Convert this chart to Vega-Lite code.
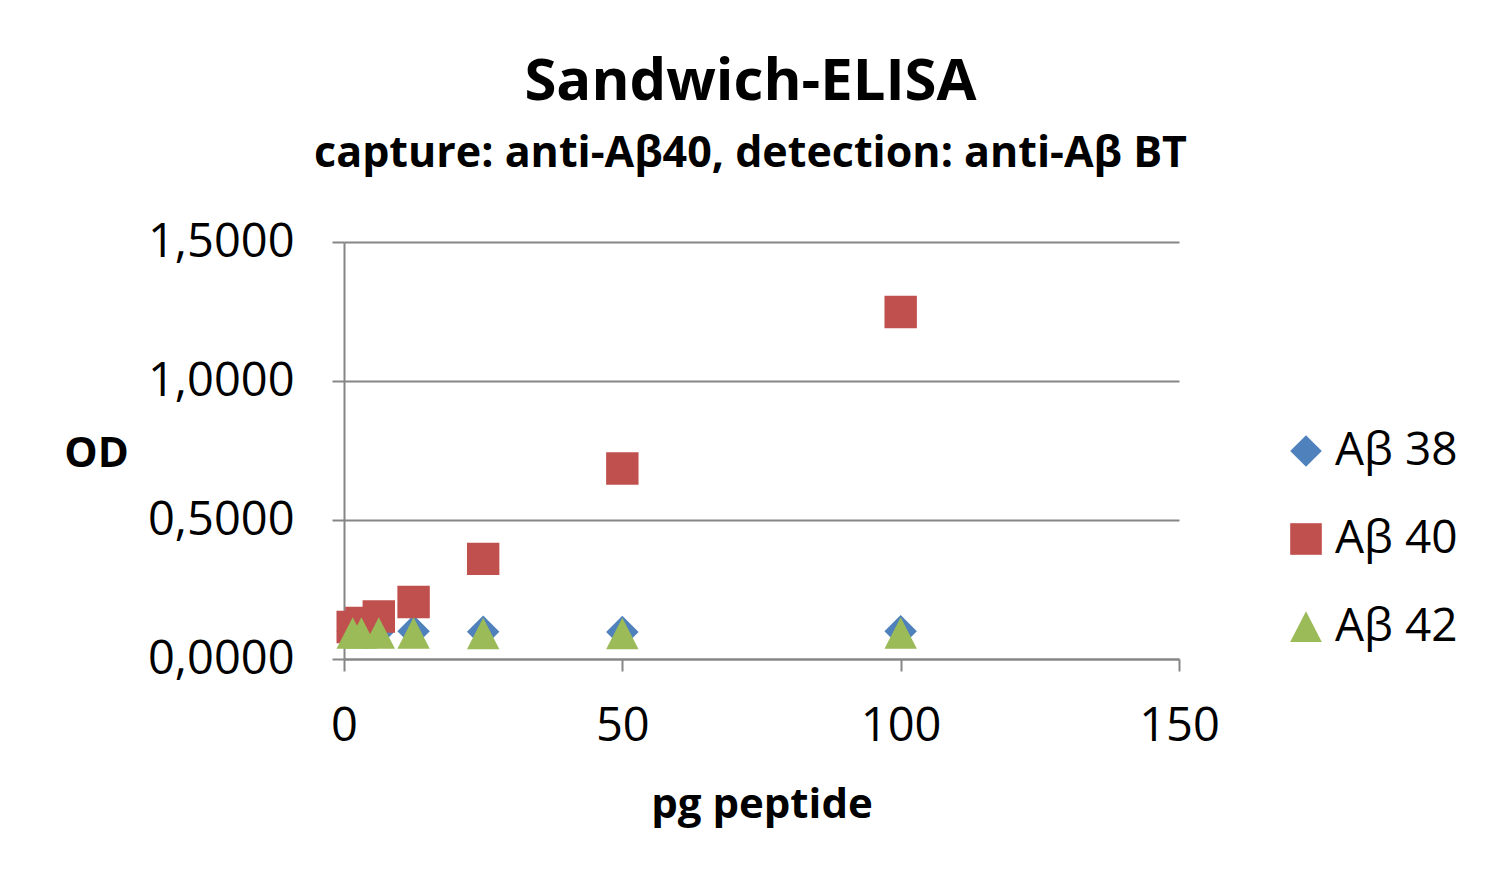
{
  "$schema": "https://vega.github.io/schema/vega-lite/v6.json",
  "width": 835,
  "height": 417,
  "autosize": "none",
  "padding": {"left": 344, "top": 242, "right": 321, "bottom": 231},
  "background": "white",
  "title": {
    "text": "Sandwich-ELISA",
    "subtitle": "capture: anti-Aβ40, detection: anti-Aβ BT",
    "font": "Open Sans",
    "fontSize": 58,
    "fontWeight": "bold",
    "color": "black",
    "subtitleFont": "Open Sans",
    "subtitleFontSize": 43,
    "subtitleFontWeight": "bold",
    "subtitleColor": "black",
    "subtitlePadding": 21,
    "anchor": "middle",
    "frame": "group",
    "dx": -11,
    "offset": 42
  },
  "data": {
    "values": [
      {"series": "Aβ 38", "pg": 1.5625, "od": 0.100},
      {"series": "Aβ 38", "pg": 3.125, "od": 0.100},
      {"series": "Aβ 38", "pg": 6.25, "od": 0.100},
      {"series": "Aβ 38", "pg": 12.5, "od": 0.100},
      {"series": "Aβ 38", "pg": 25, "od": 0.098},
      {"series": "Aβ 38", "pg": 50, "od": 0.097},
      {"series": "Aβ 38", "pg": 100, "od": 0.100},
      {"series": "Aβ 40", "pg": 1.5625, "od": 0.115},
      {"series": "Aβ 40", "pg": 3.125, "od": 0.130},
      {"series": "Aβ 40", "pg": 6.25, "od": 0.153},
      {"series": "Aβ 40", "pg": 12.5, "od": 0.205},
      {"series": "Aβ 40", "pg": 25, "od": 0.360},
      {"series": "Aβ 40", "pg": 50, "od": 0.685},
      {"series": "Aβ 40", "pg": 100, "od": 1.248},
      {"series": "Aβ 42", "pg": 1.5625, "od": 0.092},
      {"series": "Aβ 42", "pg": 3.125, "od": 0.092},
      {"series": "Aβ 42", "pg": 6.25, "od": 0.092},
      {"series": "Aβ 42", "pg": 12.5, "od": 0.092},
      {"series": "Aβ 42", "pg": 25, "od": 0.090},
      {"series": "Aβ 42", "pg": 50, "od": 0.090},
      {"series": "Aβ 42", "pg": 100, "od": 0.092}
    ]
  },
  "mark": {"type": "point", "filled": true, "opacity": 1, "size": 1050},
  "encoding": {
    "x": {
      "field": "pg",
      "type": "quantitative",
      "scale": {"domain": [0, 150], "nice": false, "zero": true},
      "axis": {
        "values": [0, 50, 100, 150],
        "grid": false,
        "title": "pg peptide",
        "titleFont": "Open Sans",
        "titleFontSize": 42,
        "titleFontWeight": "bold",
        "titleColor": "black",
        "titleY": 158,
        "titleBaseline": "alphabetic",
        "labelFont": "Open Sans",
        "labelFontSize": 47,
        "labelColor": "black",
        "labelPadding": 32,
        "labelFlush": false,
        "tickSize": 12,
        "tickWidth": 2,
        "tickColor": "#868686",
        "domainColor": "#868686",
        "domainWidth": 2
      }
    },
    "y": {
      "field": "od",
      "type": "quantitative",
      "scale": {"domain": [0, 1.5], "nice": false},
      "axis": {
        "values": [0, 0.5, 1, 1.5],
        "grid": true,
        "gridColor": "#868686",
        "gridWidth": 2,
        "labelExpr": "replace(format(datum.value, '.4f'), '.', ',')",
        "title": "OD",
        "titleAngle": 0,
        "titleX": -248,
        "titleY": 211,
        "titleAlign": "center",
        "titleBaseline": "middle",
        "titleFont": "Open Sans",
        "titleFontSize": 42,
        "titleFontWeight": "bold",
        "titleColor": "black",
        "labelFont": "Open Sans",
        "labelFontSize": 47,
        "labelColor": "black",
        "labelPadding": 38,
        "labelFlush": false,
        "tickSize": 12,
        "tickWidth": 2,
        "tickColor": "#868686",
        "domainColor": "#868686",
        "domainWidth": 2
      }
    },
    "color": {
      "field": "series",
      "type": "nominal",
      "scale": {"domain": ["Aβ 38", "Aβ 40", "Aβ 42"], "range": ["#4F81BD", "#C0504D", "#9BBB59"]},
      "legend": {
        "title": null,
        "orient": "none",
        "legendX": 939,
        "legendY": 186,
        "labelFont": "Open Sans",
        "labelFontSize": 46,
        "labelColor": "black",
        "symbolSize": 1000,
        "symbolOpacity": 1,
        "rowPadding": 42,
        "labelOffset": 6
      }
    },
    "shape": {
      "field": "series",
      "type": "nominal",
      "scale": {"domain": ["Aβ 38", "Aβ 40", "Aβ 42"], "range": ["diamond", "square", "M0,-1L1,0.95L-1,0.95Z"]}
    }
  },
  "config": {
    "view": {"stroke": null}
  }
}
